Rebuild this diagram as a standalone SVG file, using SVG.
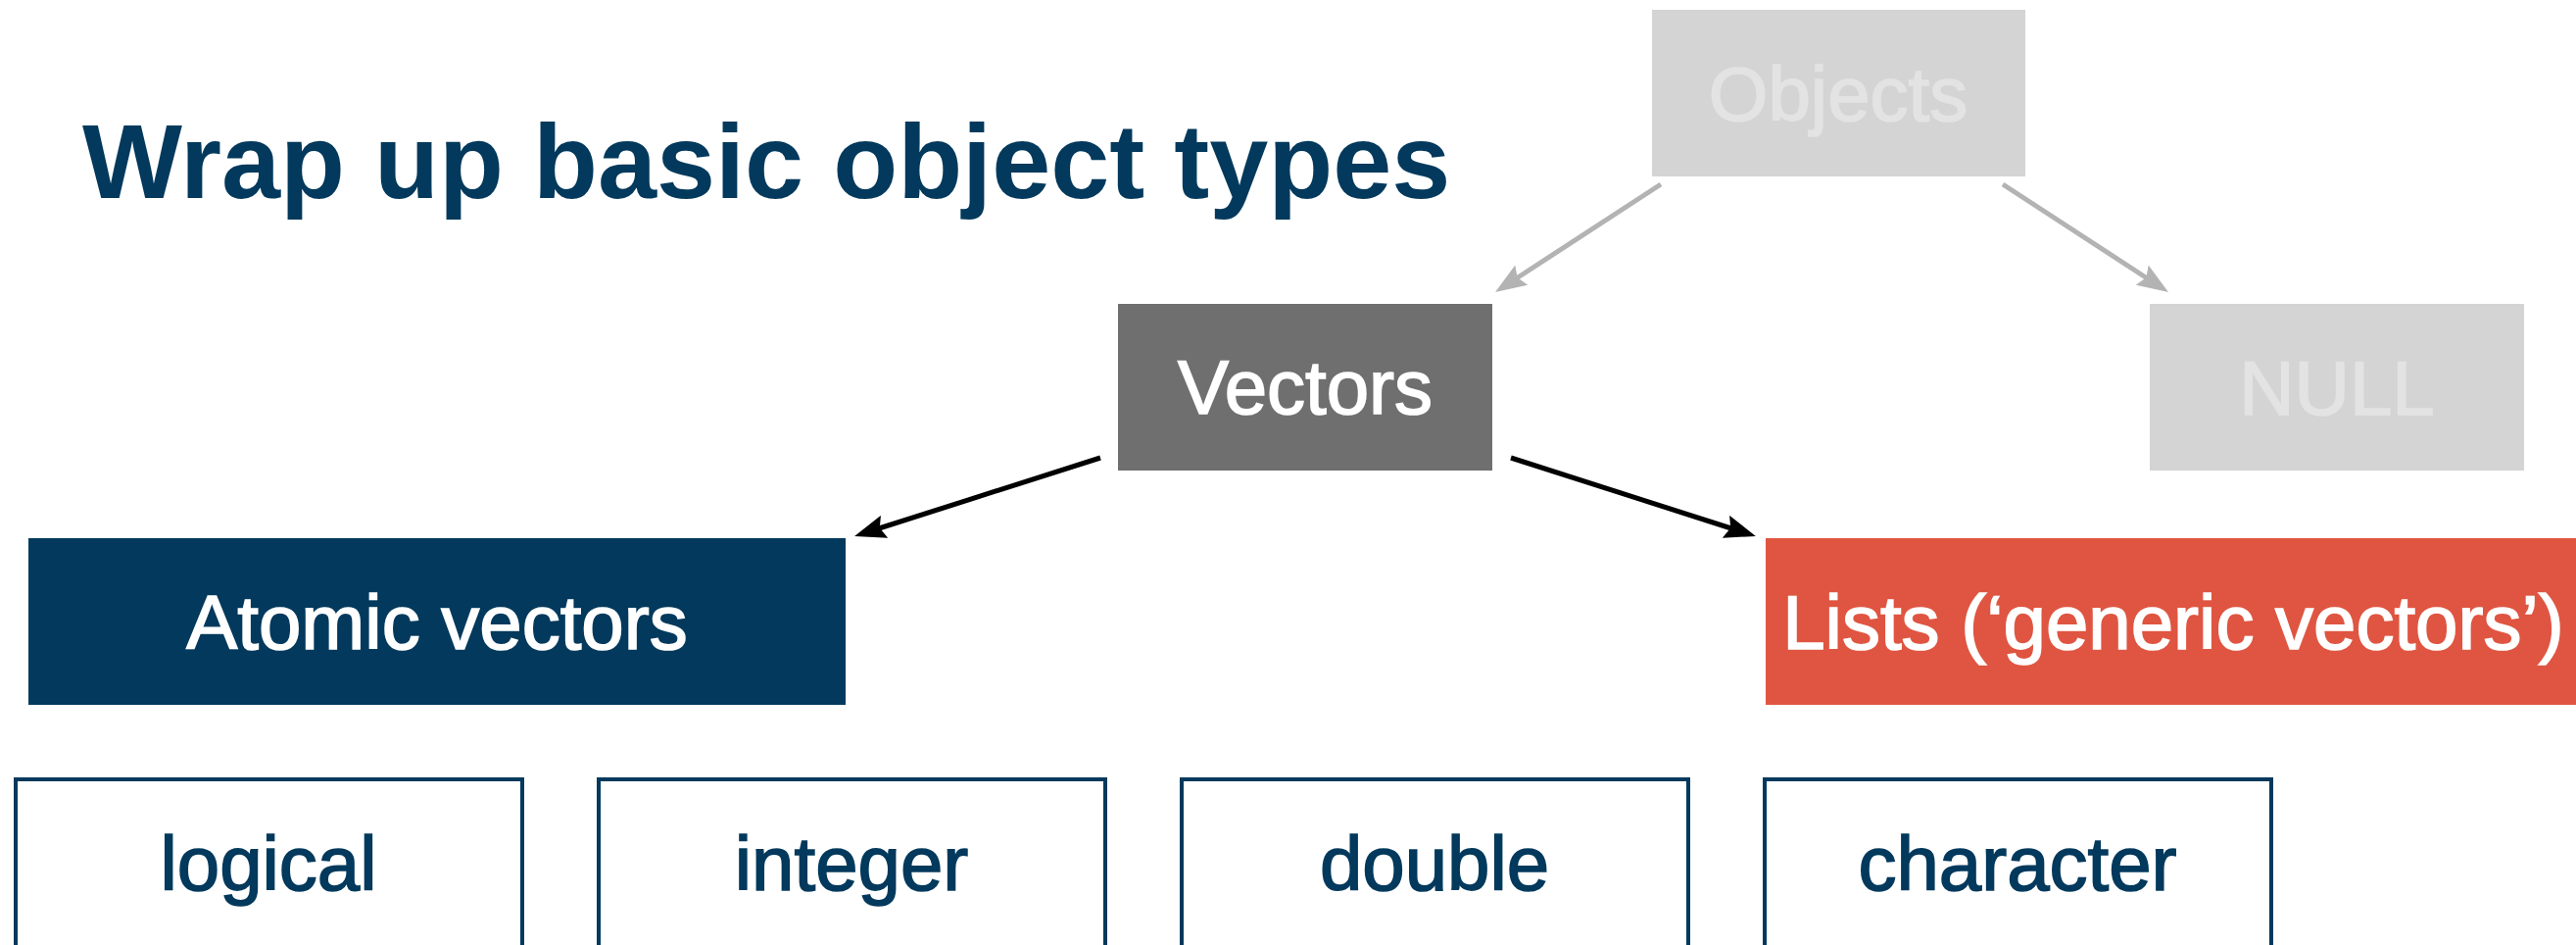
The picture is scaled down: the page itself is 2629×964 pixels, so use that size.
<svg xmlns="http://www.w3.org/2000/svg" width="2629" height="964" viewBox="0 0 2629 964">
<style>
text{font-family:"Liberation Sans",Arial,Helvetica,sans-serif;text-anchor:middle;font-size:78px;stroke-width:1.6px}
.title{font-weight:bold;font-size:108px;fill:#02395c;text-anchor:start;stroke-width:0}
.leaf rect{fill:#fff;stroke:#02395c;stroke-width:4}
.leaf text{fill:#02395c;stroke:#02395c}
.wt{fill:#fff;stroke:#fff}
.gt{fill:#e3e3e3;stroke:#e3e3e3}
.gray{fill:#d4d4d4}
.gl{stroke:#b3b3b3;stroke-width:5;fill:none}
.bl{stroke:#000;stroke-width:5;fill:none}
</style>
<defs>
<marker id="ag" viewBox="0 0 32 24" refX="9" refY="12" markerWidth="32" markerHeight="24" markerUnits="userSpaceOnUse" orient="auto"><path d="M0,0 L32,12 L0,24 L5,12 z" fill="#b3b3b3"/></marker>
<marker id="ab" viewBox="0 0 32 24" refX="9" refY="12" markerWidth="32" markerHeight="24" markerUnits="userSpaceOnUse" orient="auto"><path d="M0,0 L32,12 L0,24 L5,12 z" fill="#000"/></marker>
</defs>
<rect width="2629" height="964" fill="#fff"/>
<text id="title" class="title" x="84" y="202">Wrap up basic object types</text>
<g id="connectors">
<path class="gl" d="M1695,188 L1545.3,285.5" marker-end="url(#ag)"/>
<path class="gl" d="M2044,188 L2193.7,285.5" marker-end="url(#ag)"/>
<path class="bl" d="M1123,467 L894,540" marker-end="url(#ab)"/>
<path class="bl" d="M1542,467 L1770,540" marker-end="url(#ab)"/>
</g>
<g id="objects"><rect class="gray" x="1686" y="10" width="381" height="170"/><text class="gt" x="1876" y="123">Objects</text></g>
<g id="null"><rect class="gray" x="2194" y="310" width="382" height="170"/><text class="gt" x="2385" y="423">NULL</text></g>
<g id="vectors"><rect x="1141" y="310" width="382" height="170" fill="#6f6f6f"/><text class="wt" x="1332" y="422">Vectors</text></g>
<g id="atomic"><rect x="29" y="549" width="834" height="170" fill="#02395c"/><text class="wt" x="446" y="662">Atomic vectors</text></g>
<g id="lists"><rect x="1802" y="549" width="840" height="170" fill="#df5541"/><text class="wt" x="2218" y="662">Lists (‘generic vectors’)</text></g>
<g id="logical" class="leaf"><rect x="16" y="795" width="517" height="175"/><text x="274" y="908">logical</text></g>
<g id="integer" class="leaf"><rect x="611" y="795" width="517" height="175"/><text x="869" y="908">integer</text></g>
<g id="double" class="leaf"><rect x="1206" y="795" width="517" height="175"/><text x="1464" y="908">double</text></g>
<g id="character" class="leaf"><rect x="1801" y="795" width="517" height="175"/><text x="2059" y="908">character</text></g>
</svg>
